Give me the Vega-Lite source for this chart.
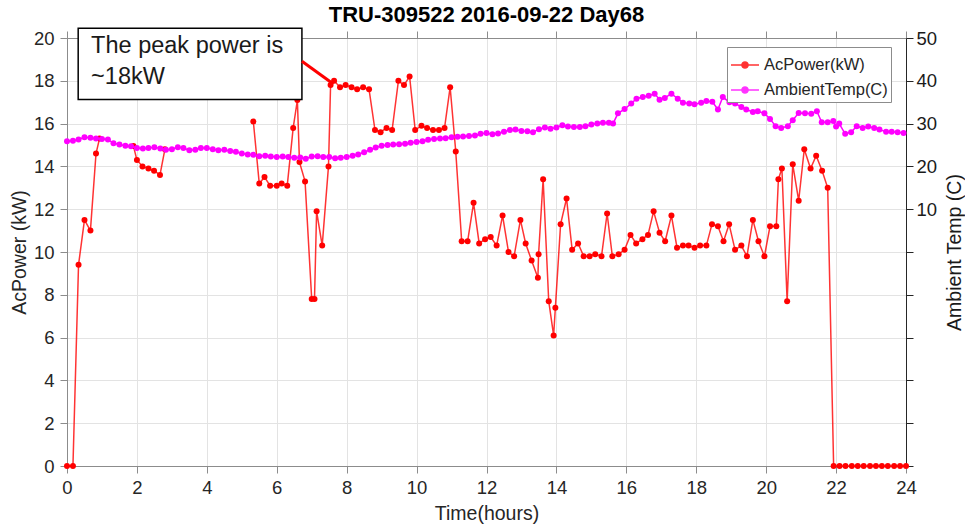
{
  "$schema": "https://vega.github.io/schema/vega-lite/v6.json",
  "width": 839,
  "height": 428,
  "autosize": {"type": "none"},
  "padding": {"left": 67, "top": 38, "right": 59, "bottom": 59},
  "background": "white",
  "title": {"text": "TRU-309522 2016-09-22 Day68", "fontSize": 22, "fontWeight": "bold", "color": "#000000", "anchor": "middle", "offset": 1, "font": "Liberation Sans"},
  "config": {
    "view": {"stroke": null},
    "font": "Liberation Sans",
    "axis": {"labelFont": "Liberation Sans", "labelFontSize": 18.5, "labelColor": "#262626", "labelFlush": false, "labelOverlap": false, "titleFont": "Liberation Sans", "titleFontSize": 19.5, "titleFontWeight": "normal", "titleColor": "#262626", "tickSize": 7, "gridColor": "#e3e3e3", "gridWidth": 1}
  },
  "resolve": {"scale": {"y": "independent"}, "axis": {"x": "independent", "y": "independent"}},
  "layer": [
    {
      "layer": [
        {
          "data": {"values": [
            {"hours": 0, "kW": 0}, {"hours": 0.17, "kW": 0}, {"hours": 0.33, "kW": 9.4}, {"hours": 0.5, "kW": 11.5}, {"hours": 0.67, "kW": 11.0}, {"hours": 0.83, "kW": 14.6}, {"hours": 0.93, "kW": 15.3}, {"hours": 1.4, "kW": null}, {"hours": 1.9, "kW": 14.95},
            {"hours": 2.0, "kW": 14.3}, {"hours": 2.16, "kW": 14.0}, {"hours": 2.33, "kW": 13.9}, {"hours": 2.49, "kW": 13.8}, {"hours": 2.66, "kW": 13.6}, {"hours": 2.8, "kW": 14.8}, {"hours": 4.0, "kW": null},
            {"hours": 5.33, "kW": 16.1}, {"hours": 5.5, "kW": 13.2}, {"hours": 5.65, "kW": 13.5}, {"hours": 5.81, "kW": 13.1}, {"hours": 6.0, "kW": 13.1}, {"hours": 6.14, "kW": 13.2}, {"hours": 6.3, "kW": 13.1}, {"hours": 6.47, "kW": 15.8}, {"hours": 6.59, "kW": 17.1}, {"hours": 6.65, "kW": 14.2}, {"hours": 6.81, "kW": 13.3},
            {"hours": 7.0, "kW": 7.8}, {"hours": 7.08, "kW": 7.8}, {"hours": 7.14, "kW": 11.9}, {"hours": 7.3, "kW": 10.3}, {"hours": 7.48, "kW": 14.0}, {"hours": 7.54, "kW": 17.8}, {"hours": 7.64, "kW": 18.0}, {"hours": 7.81, "kW": 17.7}, {"hours": 7.97, "kW": 17.8},
            {"hours": 8.14, "kW": 17.7}, {"hours": 8.3, "kW": 17.6}, {"hours": 8.47, "kW": 17.7}, {"hours": 8.64, "kW": 17.6}, {"hours": 8.81, "kW": 15.7}, {"hours": 8.97, "kW": 15.6}, {"hours": 9.14, "kW": 15.8}, {"hours": 9.3, "kW": 15.7}, {"hours": 9.48, "kW": 18.0}, {"hours": 9.64, "kW": 17.8}, {"hours": 9.8, "kW": 18.2}, {"hours": 9.96, "kW": 15.7},
            {"hours": 10.14, "kW": 15.9}, {"hours": 10.3, "kW": 15.8}, {"hours": 10.47, "kW": 15.7}, {"hours": 10.64, "kW": 15.7}, {"hours": 10.8, "kW": 15.8}, {"hours": 10.96, "kW": 17.7}, {"hours": 11.12, "kW": 14.7}, {"hours": 11.29, "kW": 10.5}, {"hours": 11.46, "kW": 10.5}, {"hours": 11.63, "kW": 12.3}, {"hours": 11.79, "kW": 10.4}, {"hours": 11.96, "kW": 10.6},
            {"hours": 12.12, "kW": 10.7}, {"hours": 12.29, "kW": 10.3}, {"hours": 12.46, "kW": 11.7}, {"hours": 12.63, "kW": 10.0}, {"hours": 12.79, "kW": 9.8}, {"hours": 12.97, "kW": 11.5}, {"hours": 13.12, "kW": 10.4}, {"hours": 13.29, "kW": 9.6}, {"hours": 13.47, "kW": 8.8}, {"hours": 13.49, "kW": 9.9}, {"hours": 13.62, "kW": 13.4}, {"hours": 13.78, "kW": 7.7}, {"hours": 13.92, "kW": 6.1}, {"hours": 13.97, "kW": 7.4},
            {"hours": 14.12, "kW": 11.3}, {"hours": 14.29, "kW": 12.5}, {"hours": 14.45, "kW": 10.1}, {"hours": 14.62, "kW": 10.4}, {"hours": 14.78, "kW": 9.8}, {"hours": 14.95, "kW": 9.8}, {"hours": 15.11, "kW": 9.9}, {"hours": 15.29, "kW": 9.8}, {"hours": 15.45, "kW": 11.8}, {"hours": 15.6, "kW": 9.8}, {"hours": 15.78, "kW": 9.9}, {"hours": 15.95, "kW": 10.1},
            {"hours": 16.12, "kW": 10.8}, {"hours": 16.28, "kW": 10.4}, {"hours": 16.46, "kW": 10.6}, {"hours": 16.62, "kW": 10.8}, {"hours": 16.78, "kW": 11.9}, {"hours": 16.95, "kW": 10.9}, {"hours": 17.11, "kW": 10.5}, {"hours": 17.29, "kW": 11.7}, {"hours": 17.45, "kW": 10.2}, {"hours": 17.62, "kW": 10.3}, {"hours": 17.78, "kW": 10.3}, {"hours": 17.95, "kW": 10.2},
            {"hours": 18.11, "kW": 10.3}, {"hours": 18.29, "kW": 10.3}, {"hours": 18.45, "kW": 11.3}, {"hours": 18.62, "kW": 11.2}, {"hours": 18.78, "kW": 10.5}, {"hours": 18.94, "kW": 11.3}, {"hours": 19.11, "kW": 10.1}, {"hours": 19.29, "kW": 10.3}, {"hours": 19.45, "kW": 9.8}, {"hours": 19.62, "kW": 11.5}, {"hours": 19.78, "kW": 10.5}, {"hours": 19.95, "kW": 9.8},
            {"hours": 20.11, "kW": 11.2}, {"hours": 20.29, "kW": 11.2}, {"hours": 20.35, "kW": 13.4}, {"hours": 20.45, "kW": 13.9}, {"hours": 20.6, "kW": 7.7}, {"hours": 20.76, "kW": 14.1}, {"hours": 20.93, "kW": 12.4}, {"hours": 21.09, "kW": 14.8}, {"hours": 21.27, "kW": 13.9}, {"hours": 21.43, "kW": 14.5}, {"hours": 21.6, "kW": 13.8}, {"hours": 21.76, "kW": 13.0},
            {"hours": 21.93, "kW": 0}, {"hours": 22.1, "kW": 0}, {"hours": 22.27, "kW": 0}, {"hours": 22.45, "kW": 0}, {"hours": 22.62, "kW": 0}, {"hours": 22.79, "kW": 0}, {"hours": 22.97, "kW": 0}, {"hours": 23.14, "kW": 0}, {"hours": 23.31, "kW": 0}, {"hours": 23.48, "kW": 0}, {"hours": 23.66, "kW": 0}, {"hours": 23.83, "kW": 0}, {"hours": 24.0, "kW": 0}
          ]},
          "layer": [
            {
              "mark": {"type": "line", "strokeWidth": 1.5, "opacity": 0.8, "invalid": "break-paths-filter-domains", "clip": false},
              "encoding": {
                "x": {"field": "hours", "type": "quantitative", "title": "Time(hours)", "scale": {"domain": [0, 24], "nice": false},
                  "axis": {"orient": "bottom", "values": [0, 2, 4, 6, 8, 10, 12, 14, 16, 18, 20, 22, 24], "grid": true, "domainColor": "#8c8c8c", "tickColor": "#8c8c8c", "labelPadding": 5, "titlePadding": 8}},
                "y": {"field": "kW", "type": "quantitative", "title": "AcPower (kW)", "scale": {"domain": [0, 20], "nice": false, "zero": false},
                  "axis": {"orient": "left", "values": [0, 2, 4, 6, 8, 10, 12, 14, 16, 18, 20], "grid": true, "domainColor": "#8c8c8c", "tickColor": "#8c8c8c", "labelPadding": 6, "titlePadding": 4}},
                "color": {"datum": "AcPower(kW)", "type": "nominal",
                  "scale": {"domain": ["AcPower(kW)", "AmbientTemp(C)"], "range": ["#ff0000", "#ff00ff"]},
                  "legend": {"orient": "none", "legendX": 660, "legendY": 9, "title": null, "labelFont": "Liberation Sans", "labelFontSize": 16.5, "labelColor": "#262626", "strokeColor": "#8c8c8c", "fillColor": "white", "padding": 3, "symbolType": "M-1,0L1,0M0.22,0A0.22,0.22,0,1,1,-0.22,0A0.22,0.22,0,1,1,0.22,0Z", "symbolSize": 784, "symbolStrokeWidth": 1.5, "rowPadding": 1, "labelOffset": 4}}
              }
            },
            {
              "mark": {"type": "point", "filled": true, "size": 36, "opacity": 1, "clip": false},
              "encoding": {
                "x": {"field": "hours", "type": "quantitative", "title": "Time(hours)"},
                "y": {"field": "kW", "type": "quantitative", "title": "AcPower (kW)"},
                "color": {"datum": "AcPower(kW)", "type": "nominal"}
              }
            }
          ]
        },
        {
          "data": {"values": [{"h1": 0.32, "h2": 6.72, "k1": 17.13, "k2": 20.45}]},
          "mark": {"type": "rect", "fill": "white", "stroke": "#000000", "strokeWidth": 1.5, "clip": false},
          "encoding": {
            "x": {"field": "h1", "type": "quantitative", "title": "Time(hours)"},
            "x2": {"field": "h2"},
            "y": {"field": "k1", "type": "quantitative", "title": "AcPower (kW)"},
            "y2": {"field": "k2"}
          }
        },
        {
          "data": {"values": [{"h": 0.69, "k": 20.17, "note": "The peak power is\n~18kW"}]},
          "mark": {"type": "text", "align": "left", "baseline": "top", "fontSize": 23.5, "font": "Liberation Sans", "color": "#1a1a1a", "lineBreak": "\n", "lineHeight": 31, "clip": false},
          "encoding": {
            "x": {"field": "h", "type": "quantitative", "title": "Time(hours)"},
            "y": {"field": "k", "type": "quantitative", "title": "AcPower (kW)"},
            "text": {"field": "note"}
          }
        },
        {
          "data": {"values": [{"h1": 6.72, "h2": 7.62, "k1": 18.91, "k2": 17.85}]},
          "mark": {"type": "rule", "color": "#ff0000", "strokeWidth": 3, "clip": false},
          "encoding": {
            "x": {"field": "h1", "type": "quantitative", "title": "Time(hours)"},
            "x2": {"field": "h2"},
            "y": {"field": "k1", "type": "quantitative", "title": "AcPower (kW)"},
            "y2": {"field": "k2"}
          }
        }
      ]
    },
    {
      "data": {"values": [
        {"hours": 0, "temp": 25.9}, {"hours": 0.17, "temp": 26.0}, {"hours": 0.33, "temp": 26.3}, {"hours": 0.5, "temp": 26.8}, {"hours": 0.67, "temp": 26.7}, {"hours": 0.83, "temp": 26.5}, {"hours": 1.0, "temp": 26.4}, {"hours": 1.17, "temp": 26.3}, {"hours": 1.33, "temp": 25.4}, {"hours": 1.5, "temp": 25.1}, {"hours": 1.67, "temp": 24.8}, {"hours": 1.83, "temp": 24.7},
        {"hours": 2.0, "temp": 24.3}, {"hours": 2.17, "temp": 24.2}, {"hours": 2.33, "temp": 24.3}, {"hours": 2.5, "temp": 24.5}, {"hours": 2.67, "temp": 24.2}, {"hours": 2.83, "temp": 23.9}, {"hours": 3.0, "temp": 24.0}, {"hours": 3.17, "temp": 24.5}, {"hours": 3.33, "temp": 24.3}, {"hours": 3.5, "temp": 23.8}, {"hours": 3.67, "temp": 23.9}, {"hours": 3.83, "temp": 24.3},
        {"hours": 4.0, "temp": 24.3}, {"hours": 4.17, "temp": 24.0}, {"hours": 4.33, "temp": 23.8}, {"hours": 4.5, "temp": 23.9}, {"hours": 4.67, "temp": 23.6}, {"hours": 4.83, "temp": 23.4}, {"hours": 5.0, "temp": 23.0}, {"hours": 5.17, "temp": 22.8}, {"hours": 5.33, "temp": 22.7}, {"hours": 5.5, "temp": 22.4}, {"hours": 5.67, "temp": 22.5}, {"hours": 5.83, "temp": 22.3},
        {"hours": 6.0, "temp": 22.2}, {"hours": 6.17, "temp": 22.3}, {"hours": 6.33, "temp": 22.2}, {"hours": 6.5, "temp": 22.0}, {"hours": 6.67, "temp": 22.1}, {"hours": 6.83, "temp": 21.8}, {"hours": 7.0, "temp": 22.3}, {"hours": 7.17, "temp": 22.4}, {"hours": 7.33, "temp": 22.2}, {"hours": 7.5, "temp": 22.2}, {"hours": 7.67, "temp": 21.9}, {"hours": 7.83, "temp": 22.0},
        {"hours": 8.0, "temp": 22.2}, {"hours": 8.17, "temp": 22.5}, {"hours": 8.33, "temp": 22.8}, {"hours": 8.5, "temp": 23.3}, {"hours": 8.67, "temp": 23.9}, {"hours": 8.83, "temp": 24.4}, {"hours": 9.0, "temp": 24.8}, {"hours": 9.17, "temp": 25.0}, {"hours": 9.33, "temp": 25.1}, {"hours": 9.5, "temp": 25.2}, {"hours": 9.67, "temp": 25.3}, {"hours": 9.83, "temp": 25.5},
        {"hours": 10.0, "temp": 25.7}, {"hours": 10.17, "temp": 25.9}, {"hours": 10.33, "temp": 26.2}, {"hours": 10.5, "temp": 26.4}, {"hours": 10.67, "temp": 26.5}, {"hours": 10.83, "temp": 26.6}, {"hours": 11.0, "temp": 26.8}, {"hours": 11.17, "temp": 26.9}, {"hours": 11.33, "temp": 27.0}, {"hours": 11.5, "temp": 27.1}, {"hours": 11.67, "temp": 27.2}, {"hours": 11.83, "temp": 27.6},
        {"hours": 12.0, "temp": 27.8}, {"hours": 12.17, "temp": 27.5}, {"hours": 12.33, "temp": 27.7}, {"hours": 12.5, "temp": 28.1}, {"hours": 12.67, "temp": 28.5}, {"hours": 12.83, "temp": 28.6}, {"hours": 13.0, "temp": 28.3}, {"hours": 13.17, "temp": 28.2}, {"hours": 13.33, "temp": 28.0}, {"hours": 13.5, "temp": 28.7}, {"hours": 13.67, "temp": 29.1}, {"hours": 13.83, "temp": 28.8},
        {"hours": 14.0, "temp": 29.1}, {"hours": 14.17, "temp": 29.6}, {"hours": 14.33, "temp": 29.3}, {"hours": 14.5, "temp": 29.2}, {"hours": 14.67, "temp": 29.2}, {"hours": 14.83, "temp": 29.4}, {"hours": 15.0, "temp": 29.8}, {"hours": 15.17, "temp": 30.0}, {"hours": 15.33, "temp": 30.2}, {"hours": 15.5, "temp": 30.2}, {"hours": 15.62, "temp": 30.0}, {"hours": 15.76, "temp": 32.4},
        {"hours": 15.95, "temp": 33.4}, {"hours": 16.14, "temp": 34.7}, {"hours": 16.29, "temp": 35.8}, {"hours": 16.47, "temp": 36.2}, {"hours": 16.64, "temp": 36.5}, {"hours": 16.81, "temp": 37.0}, {"hours": 16.95, "temp": 35.6}, {"hours": 17.1, "temp": 36.0}, {"hours": 17.29, "temp": 37.0}, {"hours": 17.47, "temp": 35.8}, {"hours": 17.62, "temp": 34.9}, {"hours": 17.8, "temp": 34.7},
        {"hours": 17.95, "temp": 34.5}, {"hours": 18.14, "temp": 34.9}, {"hours": 18.29, "temp": 35.3}, {"hours": 18.46, "temp": 35.1}, {"hours": 18.62, "temp": 33.3}, {"hours": 18.76, "temp": 36.2}, {"hours": 18.95, "temp": 35.0}, {"hours": 19.11, "temp": 34.7}, {"hours": 19.29, "temp": 33.9}, {"hours": 19.43, "temp": 33.3}, {"hours": 19.62, "temp": 32.7}, {"hours": 19.76, "temp": 32.9},
        {"hours": 19.95, "temp": 32.4}, {"hours": 20.11, "temp": 31.1}, {"hours": 20.27, "temp": 29.4}, {"hours": 20.43, "temp": 29.0}, {"hours": 20.62, "temp": 29.4}, {"hours": 20.76, "temp": 30.8}, {"hours": 20.93, "temp": 32.5}, {"hours": 21.11, "temp": 32.4}, {"hours": 21.29, "temp": 32.3}, {"hours": 21.45, "temp": 32.9}, {"hours": 21.59, "temp": 30.3}, {"hours": 21.76, "temp": 30.3},
        {"hours": 21.92, "temp": 30.6}, {"hours": 22.0, "temp": 29.3}, {"hours": 22.09, "temp": 30.0}, {"hours": 22.26, "temp": 27.6}, {"hours": 22.43, "temp": 28.0}, {"hours": 22.59, "temp": 29.4}, {"hours": 22.76, "temp": 29.0}, {"hours": 22.92, "temp": 29.3}, {"hours": 23.09, "temp": 29.0}, {"hours": 23.24, "temp": 28.6}, {"hours": 23.43, "temp": 28.1}, {"hours": 23.59, "temp": 28.1},
        {"hours": 23.76, "temp": 28.0}, {"hours": 23.93, "temp": 27.8}
      ]},
      "layer": [
        {
          "mark": {"type": "line", "strokeWidth": 1.5, "clip": false},
          "encoding": {
            "x": {"field": "hours", "type": "quantitative", "title": null,
              "axis": {"orient": "top", "values": [0, 2, 4, 6, 8, 10, 12, 14, 16, 18, 20, 22, 24], "labels": false, "grid": false, "domainColor": "#8c8c8c", "tickColor": "#8c8c8c"}},
            "y": {"field": "temp", "type": "quantitative", "title": "Ambient Temp (C)", "scale": {"domain": [-50, 50], "nice": false, "zero": false},
              "axis": {"orient": "right", "values": [-50, -40, -30, -20, -10, 0, 10, 20, 30, 40, 50], "labelExpr": "datum.value >= 10 ? datum.label : ''", "grid": false, "domainColor": "#262626", "tickColor": "#262626", "labelColor": "#1a1a1a", "titleColor": "#1a1a1a", "labelPadding": 3, "titlePadding": 9, "titleAngle": 270, "titleBaseline": "top"}},
            "color": {"datum": "AmbientTemp(C)", "type": "nominal"}
          }
        },
        {
          "mark": {"type": "point", "filled": true, "size": 36, "opacity": 1, "clip": false},
          "encoding": {
            "x": {"field": "hours", "type": "quantitative", "title": null},
            "y": {"field": "temp", "type": "quantitative", "title": "Ambient Temp (C)"},
            "color": {"datum": "AmbientTemp(C)", "type": "nominal"}
          }
        }
      ]
    }
  ]
}
